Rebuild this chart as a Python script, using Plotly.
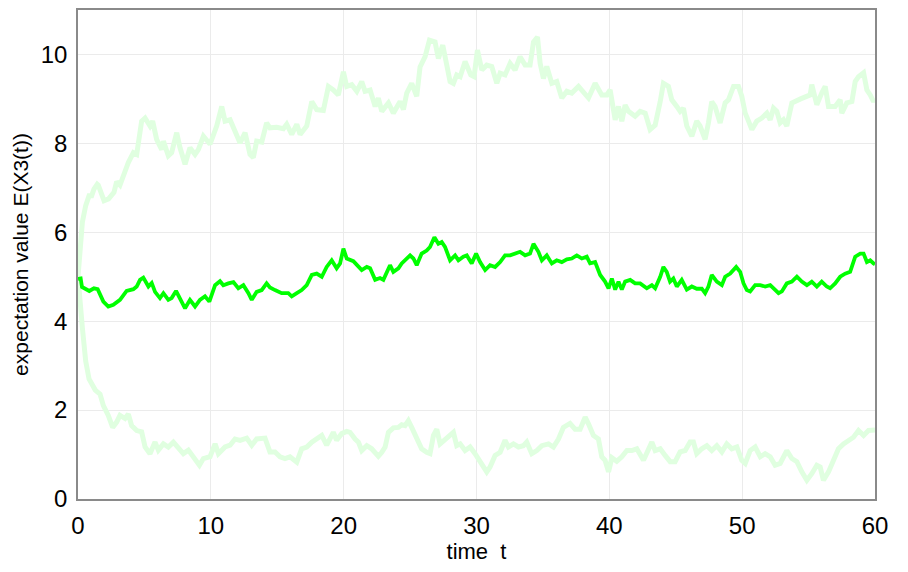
import plotly.graph_objects as go

# ---- data ----
t_upper = [0, 0.2, 0.33, 0.58, 0.83, 1.03, 1.2, 1.45, 1.53, 1.96, 2.3, 2.71, 2.91, 3.16, 3.46, 3.79,
           4.17, 4.42, 4.79, 5.05, 5.42, 5.62, 5.92, 6.30, 6.43, 6.80, 7.05, 7.43, 7.68, 8.06, 8.43,
           8.81, 9.06, 9.44, 9.94, 10.44, 10.82, 11.07, 11.45, 11.70, 12.2, 12.58, 12.95, 13.2, 13.45,
           13.83, 14.2, 14.45, 14.96, 15.46, 15.71, 16.09, 16.47, 16.72, 17.22, 17.6, 17.97, 18.47,
           18.85, 19.22, 19.60, 19.98, 20.23, 20.61, 20.99, 21.36, 21.61, 21.99, 22.37, 22.61, 22.87,
           23.37, 23.74, 24.25, 24.5, 24.75, 25.12, 25.5, 25.75, 26.13, 26.46, 26.88, 27.13, 27.46,
           27.76, 28.01, 28.26, 28.51, 28.77, 29.14, 29.57, 29.82, 30.07, 30.4, 30.77, 31.15, 31.53,
           31.78, 32.15, 32.53, 32.9, 33.28, 33.66, 34.03, 34.29, 34.59, 34.79, 35.04, 35.29, 35.67,
           36.04, 36.42, 36.80, 37.17, 37.68, 38.05, 38.43, 38.93, 39.43, 39.81, 40.06, 40.44, 40.69,
           40.94, 41.19, 41.44, 41.94, 42.32, 42.7, 43.07, 43.45, 43.83, 44.07, 44.45, 44.7, 45.08,
           45.33, 45.58, 45.83, 46.21, 46.58, 46.83, 47.21, 47.46, 47.71, 47.96, 48.34, 48.72, 48.97,
           49.35, 49.72, 49.97, 50.23, 50.48, 50.73, 51.1, 51.48, 51.86, 52.11, 52.36, 52.61, 52.86,
           53.11, 53.36, 53.74, 54.4, 55.12, 55.24, 55.62, 55.99, 56.25, 56.5, 57.0, 57.38, 57.5,
           57.88, 58.26, 58.51, 58.76, 59.14, 59.39, 59.64, 59.89, 60]
e_upper = [5.0, 5.86, 6.23, 6.6, 6.82, 6.82, 6.97, 7.08, 7.06, 6.71, 6.75, 6.9, 7.14, 7.06, 7.34, 7.57,
           7.79, 7.75, 8.50, 8.57, 8.39, 8.5, 8.09, 7.86, 8.05, 7.72, 7.79, 8.24, 7.90, 7.53, 7.90,
           7.75, 7.86, 8.16, 7.98, 8.39, 8.83, 8.50, 8.53, 8.35, 8.01, 8.24, 7.75, 7.68, 8.05,
           8.03, 8.46, 8.35, 8.36, 8.33, 8.43, 8.20, 8.43, 8.2, 8.39, 8.94, 8.76, 8.74,
           9.28, 9.2, 9.09, 9.61, 9.28, 9.32, 9.17, 9.39, 9.17, 9.2, 8.83, 9.02, 8.72,
           8.91, 8.68, 8.94, 8.76, 9.13, 9.35, 9.06, 9.72, 9.95, 10.32, 10.28, 9.91, 10.21,
           9.80, 9.39, 9.35, 9.54, 9.5, 9.84, 9.54, 9.5, 10.1, 9.65, 9.76, 9.73, 9.35,
           9.58, 9.54, 9.8, 9.65, 9.95, 9.76, 9.76, 10.28, 10.39, 9.8, 9.46, 9.73, 9.35,
           9.39, 9.02, 9.17, 9.13, 9.28, 9.13, 9.02, 9.35, 9.09, 9.09, 9.2, 8.53, 8.83,
           8.50, 8.86, 8.72, 8.61, 8.72, 8.68, 8.31, 8.41, 8.94, 9.35, 9.28, 8.98, 8.83,
           8.72, 8.79, 8.39, 8.16, 8.50, 8.39, 8.09, 8.46, 8.94, 8.83, 8.46, 8.91, 8.98,
           9.28, 9.28, 9.06, 8.68, 8.50, 8.31, 8.50, 8.57, 8.68, 8.53, 8.79, 8.72, 8.46,
           8.53, 8.39, 8.91, 9.0, 9.09, 9.32, 8.87, 9.13, 9.28, 8.83, 8.83, 8.98, 8.68,
           8.91, 8.94, 9.39, 9.5, 9.59, 9.2, 9.09, 8.94, 9.0]

t_mean = [0, 0.2, 0.3, 0.6, 0.85, 1.2, 1.48, 1.91, 2.28, 2.66, 3.16, 3.66, 4.17, 4.42, 4.67, 4.92, 5.3,
          5.55, 5.8, 6.17, 6.43, 6.8, 7.05, 7.38, 7.68, 8.06, 8.43, 8.81, 9.18, 9.56, 9.89, 10.32,
          10.69, 10.94, 11.32, 11.7, 12.07, 12.45, 12.83, 13.08, 13.45, 13.83, 14.2, 14.45, 14.83,
          15.33, 15.83, 16.09, 16.47, 16.84, 17.22, 17.6, 17.97, 18.35, 18.72, 19.1, 19.47, 19.73,
          19.98, 20.23, 20.73, 21.11, 21.36, 21.74, 21.99, 22.37, 22.74, 22.99, 23.49, 23.74, 24.12,
          24.37, 24.62, 25.0, 25.25, 25.5, 25.87, 26.25, 26.5, 26.83, 27.13, 27.38, 27.63, 27.88,
          28.01, 28.39, 28.64, 29.01, 29.27, 29.64, 29.97, 30.27, 30.65, 31.02, 31.4, 31.78, 32.15,
          32.53, 32.9, 33.28, 33.66, 34.03, 34.29, 34.66, 34.92, 35.29, 35.67, 36.04, 36.42, 36.8,
          37.17, 37.55, 37.93, 38.3, 38.55, 38.93, 39.31, 39.68, 39.94, 40.19, 40.44, 40.69, 40.94,
          41.19, 41.57, 41.94, 42.32, 42.82, 43.2, 43.45, 43.83, 44.07, 44.32, 44.57, 44.82, 45.08,
          45.45, 45.83, 46.21, 46.58, 46.96, 47.21, 47.46, 47.71, 48.09, 48.47, 48.72, 49.1, 49.55,
          49.85, 50.1, 50.35, 50.6, 50.98, 51.36, 51.73, 52.11, 52.36, 52.74, 52.99, 53.36, 53.74,
          54.12, 54.49, 54.87, 55.24, 55.62, 55.99, 56.37, 56.62, 57.0, 57.38, 57.75, 58.13, 58.51,
          58.89, 59.14, 59.39, 59.64, 59.89, 60]
e_mean = [4.95, 4.96, 4.77, 4.72, 4.68, 4.74, 4.72, 4.44, 4.33, 4.37, 4.48, 4.68, 4.72, 4.78, 4.93, 4.98, 4.78,
          4.86, 4.66, 4.52, 4.63, 4.48, 4.52, 4.68, 4.52, 4.29, 4.48, 4.33, 4.48, 4.56, 4.44, 4.81,
          4.9, 4.81, 4.85, 4.88, 4.74, 4.81, 4.63, 4.48, 4.66, 4.7, 4.85, 4.76, 4.70,
          4.63, 4.63, 4.56, 4.63, 4.7, 4.81, 5.04, 5.07, 5.0, 5.22, 5.37, 5.19, 5.3,
          5.63, 5.41, 5.35, 5.22, 5.15, 5.22, 5.19, 4.93, 4.97, 4.93, 5.26, 5.11, 5.19,
          5.30, 5.37, 5.48, 5.41, 5.26, 5.52, 5.59, 5.67, 5.89, 5.74, 5.78, 5.67, 5.48,
          5.37, 5.48, 5.37, 5.45, 5.48, 5.30, 5.52, 5.33, 5.15, 5.26, 5.22, 5.33, 5.48,
          5.48, 5.52, 5.56, 5.48, 5.52, 5.74, 5.56, 5.37, 5.48, 5.30, 5.37, 5.33, 5.39,
          5.41, 5.48, 5.41, 5.45, 5.30, 5.33, 5.04, 4.89, 4.74, 4.96, 4.71, 4.89, 4.71,
          4.89, 4.93, 4.85, 4.85, 4.74, 4.81, 4.74, 5.0, 5.22, 5.11, 4.89, 4.96, 4.78,
          4.93, 4.71, 4.78, 4.73, 4.73, 4.63, 4.78, 5.04, 4.89, 4.81, 5.0, 5.07, 5.22,
          5.11, 4.85, 4.70, 4.67, 4.81, 4.81, 4.78, 4.81, 4.74, 4.63, 4.67, 4.85, 4.89,
          5.0, 4.89, 4.81, 4.89, 4.78, 4.89, 4.78, 4.74, 4.85, 5.0, 5.07, 5.11, 5.45,
          5.52, 5.52, 5.33, 5.37, 5.30, 5.28]

t_lower = [0, 0.15, 0.33, 0.58, 0.83, 1.3, 1.66, 1.91, 2.28, 2.61, 2.91, 3.16, 3.54, 3.79, 4.04, 4.42,
           4.79, 5.05, 5.42, 5.8, 6.05, 6.43, 6.8, 7.18, 7.56, 7.93, 8.31, 8.68, 9.14, 9.44, 9.94,
           10.32, 10.57, 11.07, 11.45, 11.82, 12.2, 12.7, 13.08, 13.45, 14.08, 14.45, 14.83, 15.21,
           15.58, 15.96, 16.47, 16.84, 17.22, 17.6, 17.97, 18.35, 18.72, 19.22, 19.47, 19.85, 20.23,
           20.48, 20.86, 21.11, 21.36, 21.74, 22.11, 22.37, 22.61, 22.87, 23.12, 23.37, 23.74, 24.12,
           24.37, 24.62, 24.87, 25.12, 25.5, 25.87, 26.25, 26.5, 26.76, 27.01, 27.26, 27.63, 27.88,
           28.26, 28.51, 28.77, 29.14, 29.52, 29.89, 30.27, 30.77, 31.02, 31.4, 31.78, 32.15, 32.4,
           32.78, 33.16, 33.53, 33.78, 34.16, 34.54, 34.92, 35.42, 35.79, 36.17, 36.54, 37.04, 37.42,
           37.8, 38.18, 38.43, 38.8, 39.18, 39.43, 39.68, 39.94, 40.19, 40.56, 40.94, 41.32, 41.69,
           42.07, 42.57, 42.94, 43.2, 43.45, 43.83, 44.2, 44.58, 44.95, 45.33, 45.71, 46.08, 46.33,
           46.58, 46.96, 47.34, 47.71, 48.09, 48.47, 48.84, 49.22, 49.6, 49.97, 50.23, 50.6, 50.98,
           51.36, 51.73, 52.11, 52.48, 52.86, 53.36, 53.74, 54.12, 54.49, 54.87, 55.24, 55.62, 55.87,
           56.12, 56.5, 56.87, 57.25, 57.63, 58.0, 58.38, 58.76, 59.14, 59.51, 59.89, 60]
e_lower = [5.0, 4.59, 3.85, 3.1, 2.7, 2.45, 2.36, 2.10, 1.88, 1.61, 1.73, 1.88, 1.81, 1.91, 1.65, 1.54,
           1.51, 1.17, 1.02, 1.28, 1.1, 1.24, 1.17, 1.28, 1.13, 1.02, 1.1, 0.95, 0.76, 0.91, 0.95,
           1.24, 1.02, 1.17, 1.21, 1.35, 1.32, 1.37, 1.21, 1.35, 1.37, 1.06, 1.06, 0.95,
           0.91, 0.95, 0.83, 1.13, 1.17, 1.28, 1.35, 1.43, 1.21, 1.5, 1.32, 1.47, 1.52,
           1.5, 1.35, 1.28, 1.09, 1.2, 1.13, 1.02, 0.96, 1.05, 1.17, 1.50, 1.6, 1.61,
           1.67, 1.65, 1.76, 1.61, 1.39, 1.13, 1.05, 1.02, 1.43, 1.57, 1.24, 1.35, 1.39,
           1.5, 1.2, 1.24, 1.09, 1.17, 1.02, 0.84, 0.61, 0.72, 0.98, 1.05, 1.32, 1.17,
           1.24, 1.17, 1.2, 1.28, 1.02, 1.09, 1.2, 1.24, 1.17, 1.35, 1.61, 1.7, 1.57,
           1.57, 1.84, 1.69, 1.43, 1.35, 0.95, 0.87, 0.61, 0.93, 0.85, 0.95, 1.09, 1.09,
           1.13, 0.87, 1.09, 1.28, 1.09, 1.13, 0.98, 0.84, 0.84, 1.06, 1.09, 1.28, 1.28,
           1.02, 1.13, 1.2, 1.09, 1.2, 1.06, 1.24, 1.13, 1.17, 0.87, 0.8, 1.09, 1.17,
           0.95, 1.02, 0.95, 0.76, 0.8, 1.09, 0.91, 0.84, 0.61, 0.42, 0.57, 0.76, 0.72,
           0.42, 0.61, 0.87, 1.13, 1.24, 1.32, 1.39, 1.54, 1.43, 1.54, 1.56, 1.55]

x_ticks = [0, 10, 20, 30, 40, 50, 60]
y_ticks = [0, 2, 4, 6, 8, 10]

PALE = "rgb(224,255,224)"
BRIGHT = "rgb(0,255,0)"
FONT = "Liberation Sans, Arial, sans-serif"

fig = go.Figure()
fig.add_trace(go.Scatter(x=t_upper, y=e_upper, mode="lines",
                         line=dict(color=PALE, width=5), showlegend=False, hoverinfo="skip"))
fig.add_trace(go.Scatter(x=t_lower, y=e_lower, mode="lines",
                         line=dict(color=PALE, width=5), showlegend=False, hoverinfo="skip"))
fig.add_trace(go.Scatter(x=t_mean, y=e_mean, mode="lines",
                         line=dict(color=BRIGHT, width=3.8), showlegend=False))

axis_common = dict(showline=True, linecolor="#8a8a8a", linewidth=1.5, mirror=True,
                   showgrid=True, gridcolor="#ebebeb", gridwidth=1, zeroline=False,
                   ticks="outside", ticklen=4, tickcolor="rgba(0,0,0,0)",
                   tickfont=dict(family=FONT, size=24, color="black"))

fig.update_layout(
    width=908, height=572,
    margin=dict(l=70, r=41, t=0, b=81),
    paper_bgcolor="white", plot_bgcolor="white",
    font=dict(family=FONT, color="black"),
    xaxis=dict(range=[0, 60], tickvals=x_ticks, ticktext=[str(v) for v in x_ticks],
               title=dict(text="time  t", font=dict(family=FONT, size=22), standoff=4),
               **axis_common),
    yaxis=dict(range=[0, 11], tickvals=y_ticks, ticktext=[str(v) for v in y_ticks],
               title=dict(text="expectation value E(X3(t))", font=dict(family=FONT, size=21), standoff=6),
               **axis_common),
)

fig.write_html("out.html")
